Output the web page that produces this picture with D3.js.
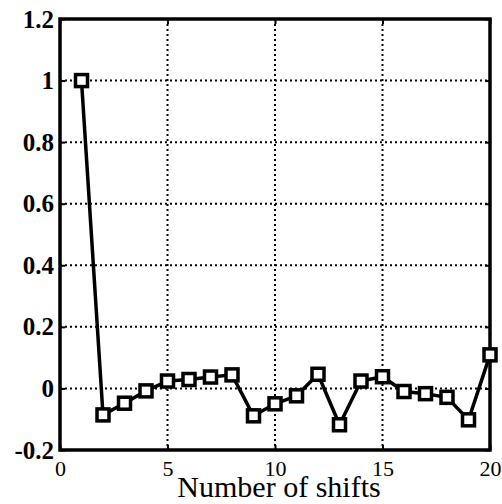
<!DOCTYPE html>
<html>
<head>
<meta charset="utf-8">
<script src="https://cdn.jsdelivr.net/npm/d3@7"></script>
<style>
html,body{margin:0;padding:0;background:#fff;}
svg{display:block;}
</style>
</head>
<body>
<svg id="chart" width="502" height="504"></svg>
<script>
const shifts = [1,2,3,4,5,6,7,8,9,10,11,12,13,14,15,16,17,18,19,20];
const values = [1.0,-0.086,-0.048,-0.008,0.024,0.029,0.037,0.044,-0.089,-0.05,-0.024,0.046,-0.118,0.024,0.038,-0.01,-0.017,-0.029,-0.102,0.109];
const xTicks = [0,5,10,15,20];
const yTicks = [-0.2,0,0.2,0.4,0.6,0.8,1,1.2];
const xLabel = "Number of shifts";

const FONT = "Liberation Serif";
const svg = d3.select("#chart");
const m = {left:60, right:490, top:19, bottom:450};
const x = d3.scaleLinear().domain([0,20]).range([m.left, m.right]);
const y = d3.scaleLinear().domain([-0.2,1.2]).range([m.bottom, m.top]);

// grid
const g = svg.append("g");
g.selectAll("line.vg").data(xTicks.filter(t=>t>0&&t<20)).enter().append("line")
  .attr("x1",d=>x(d)).attr("x2",d=>x(d)).attr("y1",m.top).attr("y2",m.bottom)
  .attr("stroke","#000").attr("stroke-width",2).attr("stroke-dasharray","2,3");
g.selectAll("line.hg").data(yTicks.filter(t=>t>-0.2&&t<1.2)).enter().append("line")
  .attr("x1",m.left).attr("x2",m.right).attr("y1",d=>y(d)).attr("y2",d=>y(d))
  .attr("stroke","#000").attr("stroke-width",2).attr("stroke-dasharray","2,3");

// axes
const xAxis = d3.axisBottom(x).tickValues(xTicks).tickSize(-5).tickPadding(10).tickFormat(d3.format("d"));
const yAxis = d3.axisLeft(y).tickValues(yTicks).tickSize(-5).tickPadding(6).tickFormat(d=>d===0?"0":String(d));
const xa = svg.append("g").attr("transform",`translate(0,${m.bottom})`).call(xAxis);
const ya = svg.append("g").attr("transform",`translate(${m.left},0)`).call(yAxis);
const xa2 = svg.append("g").attr("transform",`translate(0,${m.top})`).call(d3.axisTop(x).tickValues(xTicks).tickSize(-5).tickFormat(""));
const ya2 = svg.append("g").attr("transform",`translate(${m.right},0)`).call(d3.axisRight(y).tickValues(yTicks).tickSize(-5).tickFormat(""));
[xa,ya,xa2,ya2].forEach(a=>{
  a.attr("font-family",FONT).attr("font-size",24);
  a.select(".domain").remove();
  a.selectAll(".tick line").attr("stroke","#000").attr("stroke-width",2);
});
xa.selectAll("text").attr("font-family",FONT).attr("font-size",22).attr("fill","#000").attr("dy","0.71em");
ya.selectAll("text").attr("font-family",FONT).attr("font-size",25).attr("font-weight","bold").attr("fill","#000");

// box
svg.append("rect").attr("x",m.left).attr("y",m.top).attr("width",m.right-m.left).attr("height",m.bottom-m.top)
  .attr("fill","none").attr("stroke","#000").attr("stroke-width",3.5);

// line
const data = shifts.map((s,i)=>({s, v: values[i]}));
svg.append("path").datum(data)
  .attr("d", d3.line().x(d=>x(d.s)).y(d=>y(d.v)))
  .attr("fill","none").attr("stroke","#000").attr("stroke-width",3.5).attr("stroke-linejoin","round");
const sz = 12;
svg.selectAll("rect.mk").data(data).enter().append("rect")
  .attr("x",d=>x(d.s)-sz/2).attr("y",d=>y(d.v)-sz/2).attr("width",sz).attr("height",sz)
  .attr("fill","#fff").attr("stroke","#000").attr("stroke-width",3.5);

// x label
svg.append("text").attr("x",279).attr("y",497).attr("text-anchor","middle")
  .attr("font-family",FONT).attr("font-size",30).attr("fill","#000")
  .text(xLabel);
</script>
</body>
</html>
